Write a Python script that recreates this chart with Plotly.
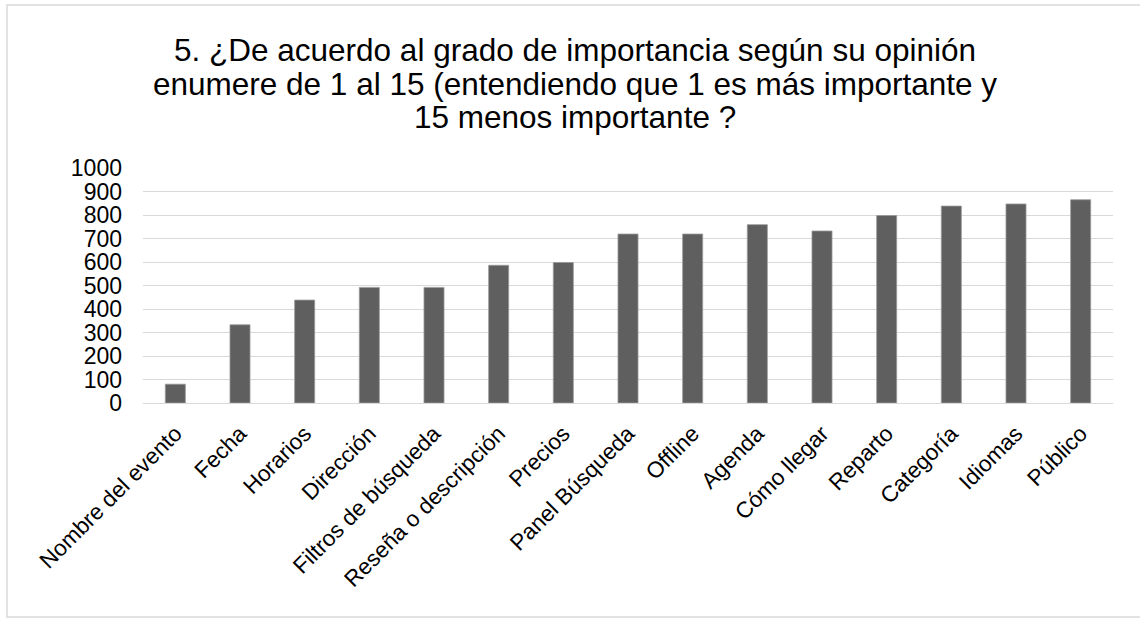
import plotly.graph_objects as go

# Survey question: importance ranking totals per feature
categories = [
    "Nombre del evento", "Fecha", "Horarios", "Dirección", "Filtros de búsqueda",
    "Reseña o descripción", "Precios", "Panel Búsqueda", "Offline", "Agenda",
    "Cómo llegar", "Reparto", "Categoría", "Idiomas", "Público",
]
values = [80, 333, 438, 492, 492, 586, 598, 719, 719, 759, 732, 798, 838, 847, 865]
y_ticks = [0, 100, 200, 300, 400, 500, 600, 700, 800, 900, 1000]
title_lines = [
    "5. ¿De acuerdo al grado de importancia según su opinión",
    "enumere de 1 al 15 (entendiendo que 1 es más importante y",
    "15 menos importante ?",
]

W, H = 1140, 620
M_L, M_R, M_T, M_B = 143, 27, 168, 217
FONT = "Liberation Sans, Arial, sans-serif"

fig = go.Figure(
    go.Bar(
        x=categories,
        y=values,
        width=0.31,
        marker=dict(color="#5f5f5f", line=dict(color="#9a9a9a", width=0.8)),
        hoverinfo="x+y",
    )
)

# Title drawn as three centred lines with tight line spacing
line_centres = [50, 84, 117]
for text, cy in zip(title_lines, line_centres):
    fig.add_annotation(
        text=text,
        xref="paper", yref="paper",
        x=(575 - M_L) / (W - M_L - M_R),
        y=(H - M_B - cy) / (H - M_T - M_B),
        xanchor="center", yanchor="middle",
        showarrow=False,
        font=dict(family=FONT, size=31.5, color="#000000"),
    )

# Light outer frame around the chart area
fig.add_shape(
    type="rect", xref="paper", yref="paper",
    x0=(7 - M_L) / (W - M_L - M_R), x1=(1145 - M_L) / (W - M_L - M_R),
    y0=(H - M_B - 617) / (H - M_T - M_B), y1=(H - M_B - 5) / (H - M_T - M_B),
    line=dict(color="#d9d9d9", width=1.5),
    fillcolor="rgba(0,0,0,0)",
    layer="below",
)

fig.update_layout(
    width=W, height=H,
    margin=dict(l=M_L, r=M_R, t=M_T, b=M_B, autoexpand=False),
    paper_bgcolor="white",
    plot_bgcolor="white",
    showlegend=False,
    font=dict(family=FONT, size=22, color="#000000"),
)
fig.update_xaxes(
    tickangle=-45,
    showgrid=False,
    showline=False,
    ticks="",
    ticklabelstandoff=12,
    tickfont=dict(family=FONT, size=22.5, color="#000000"),
)
fig.update_yaxes(
    range=[0, 1000],
    tickvals=y_ticks,
    ticktext=[str(v) for v in y_ticks],
    showgrid=True,
    gridcolor="#d9d9d9",
    gridwidth=1.3,
    zeroline=True,
    zerolinecolor="#d9d9d9",
    zerolinewidth=1.3,
    showline=False,
    ticks="",
    ticklabelstandoff=20,
    tickfont=dict(family=FONT, size=23, color="#000000"),
)

fig.write_html("out.html")
